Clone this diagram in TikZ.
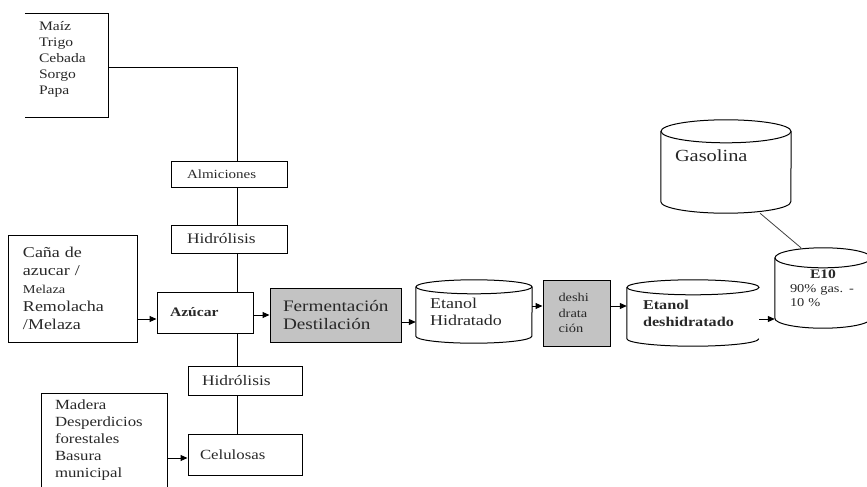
\documentclass[tikz,border=0pt]{standalone}
\usepackage{fontspec}
\setmainfont{Liberation Serif}[FakeStretch=1.2]
\usepackage{tikz}
\usetikzlibrary{arrows.meta, calc}
\definecolor{cajagris}{RGB}{195,195,195}
\definecolor{tinta}{RGB}{40,40,40}

% tanque: node name, x radius, y radius
\newcommand{\tanque}[3]{%
  \draw[linea] ([yshift=-#3 pt]#1.north) ellipse [x radius=#2pt, y radius=#3pt];
  \draw[linea] ([yshift=-#3 pt]#1.north west) -- ([yshift=#3 pt]#1.south west)
    arc [start angle=180, end angle=360, x radius=#2pt, y radius=#3pt]
    -- ([yshift=-#3 pt]#1.north east);}

\begin{document}
\begin{tikzpicture}[
    x=1pt, y=-1pt,
    caja/.style={draw, line width=1pt, inner sep=0pt, align=left,
                 text=tinta},
    gris/.style={caja, fill=cajagris},
    abierta/.style={inner sep=0pt, align=left, text=tinta},
    tanquebox/.style={inner sep=0pt, align=left, text=tinta},
    linea/.style={line width=1pt},
    flecha/.style={-{Triangle[length=7pt, width=6pt]}, line width=1pt},
    chico/.style={font=\fontsize{12.5}{15}\selectfont},
  ]
  \useasboundingbox (0,0) rectangle (867,487);

  % Materias primas
  \node[abierta, minimum width=83, minimum height=103, text width=55,
        font=\fontsize{13}{16}\selectfont] (granos) at (66.5,65.5)
    {Maíz\\Trigo\\Cebada\\Sorgo\\Papa\\[-1pt]\mbox{}};
  \draw[linea] (granos.north west) -- (granos.north east) -- (granos.south east) -- (granos.south west);

  \node[caja, minimum width=129, minimum height=107, text width=99,
        font=\fontsize{15}{18}\selectfont] (cana) at (72.5,288.5)
    {Caña de\\azucar /\\{\fontsize{12}{14}\selectfont Melaza}\\Remolacha\\/Melaza};

  \node[abierta, minimum width=125, minimum height=93, text width=99,
        font=\fontsize{14}{17}\selectfont] (madera) at (104.5,440.5)
    {Madera\\Desperdicios\\forestales\\Basura\\municipal};
  \draw[linea] (madera.south west) -- (madera.north west) -- (madera.north east) -- (madera.south east);

  % Cadena central
  \node[caja, chico, minimum width=116, minimum height=26, text width=84] (almidones) at (229,174) {Almiciones};
  \node[caja, minimum width=116, minimum height=28, text width=84,
        font=\fontsize{14.5}{16}\selectfont] (hidro1) at (229,239) {Hidrólisis};
  \node[caja, minimum width=96, minimum height=41, text width=70,
        font=\fontsize{13}{15}\selectfont\bfseries] (azucar) at (205,312.5) {Azúcar};
  \node[caja, minimum width=114, minimum height=29, text width=86,
        font=\fontsize{14.5}{16}\selectfont] (hidro2) at (245,380.5) {Hidrólisis};
  \node[caja, minimum width=114, minimum height=41, text width=90,
        font=\fontsize{14}{16}\selectfont] (celulosas) at (245,454.5) {Celulosas};

  \coordinate (codo) at (237,68);
  \draw[linea] (granos.east |- codo) -- (codo) -- (codo |- almidones.north);
  \draw[linea] (codo |- almidones.south) -- (codo |- hidro1.north);
  \draw[linea] (codo |- hidro1.south) -- (codo |- azucar.north);
  \draw[linea] (codo |- azucar.south) -- (codo |- hidro2.north);
  \draw[linea] (codo |- hidro2.south) -- (codo |- celulosas.north);

  \coordinate (e1) at ([yshift=-6.5pt]azucar.west);
  \draw[flecha] (e1 -| cana.east) -- (e1);
  \coordinate (e5) at ([yshift=-3.5pt]celulosas.west);
  \draw[flecha] (e5 -| madera.east) -- (e5);

  % Proceso
  \node[gris, minimum width=131, minimum height=54, text width=105,
        font=\fontsize{16}{18}\selectfont] (ferm) at (335.5,315)
    {Fermentación\\Destilación};
  \draw[flecha] (azucar.east |- ferm.west) -- (ferm.west);

  \node[tanquebox, minimum width=116, minimum height=63, text width=88,
        font=\fontsize{15}{17}\selectfont] (etanolh) at (474,311.5)
    {Etanol\\Hidratado};
  \tanque{etanolh}{58}{7}
  \coordinate (e2) at ([yshift=-7pt]ferm.east);
  \draw[flecha] (e2) -- (e2 -| etanolh.west);

  \node[gris, minimum width=67, minimum height=66, text width=36,
        font=\fontsize{12}{15.5}\selectfont] (deshid) at (576.5,313)
    {deshi\\drata\\ción};
  \coordinate (e3) at ([yshift=7pt]deshid.west);
  \draw[flecha] (e3 -| etanolh.east) -- (e3);

  \node[tanquebox, minimum width=132, minimum height=66, text width=100,
        font=\fontsize{13.5}{17}\selectfont\bfseries] (etanold) at (693,313)
    {Etanol\\deshidratado};
  \draw[linea] ([yshift=-7.5pt]etanold.north) ellipse [x radius=66pt, y radius=7.5pt];
  \draw[linea] ([yshift=-7.5pt]etanold.north west) -- ([yshift=7.5pt]etanold.south west)
    arc [start angle=180, end angle=360, x radius=66pt, y radius=7.5pt];
  \draw[flecha] (e3 -| deshid.east) -- (e3 -| etanold.west);

  % Mezcla
  \node[tanquebox, minimum width=130, minimum height=93, text width=102,
        text depth=21pt, font=\fontsize{17}{20}\selectfont] (gasolina) at (726,166.5)
    {Gasolina};
  \tanque{gasolina}{65}{11.5}

  \node[tanquebox, minimum width=96, minimum height=80, text width=66,
        font=\fontsize{12}{14}\selectfont] (e10) at (823,288)
    {\hfil{\fontsize{13}{14}\selectfont\bfseries E10}\hfil\\90\% gas. -\\10 \%};
  \tanque{e10}{48}{10}

  \coordinate (e4) at ([yshift=-6pt]etanold.east);
  \draw[flecha] (e4) -- (e4 -| e10.west);
  \draw[line width=0.8pt, black!75] ([xshift=34pt]gasolina.south) -- ([xshift=-22pt]e10.north);

\end{tikzpicture}
\end{document}
